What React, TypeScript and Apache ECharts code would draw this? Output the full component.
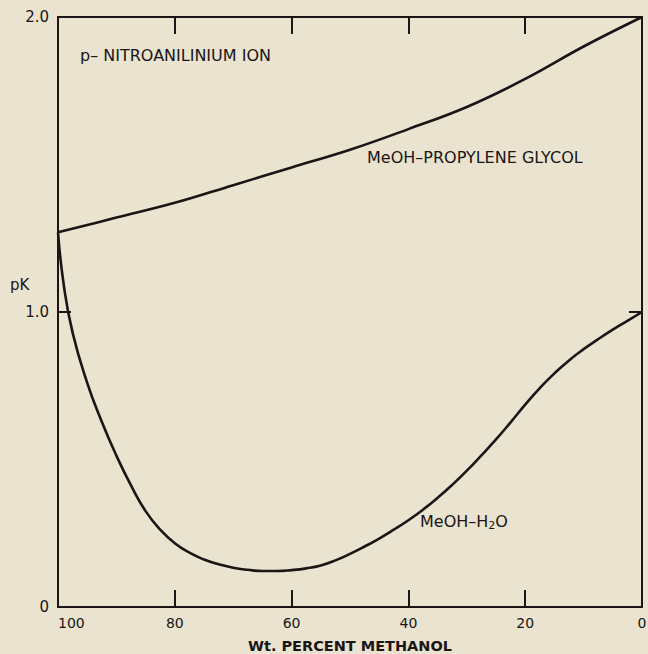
import React, { useEffect, useRef } from "react";
import * as echarts from "echarts";

// ---- data ----
const xTickValues = [0, 20, 40, 60, 80, 100];
const yTickLabels: Record<number, string> = { 0: "0", 1: "1.0", 2: "2.0" };

const glycolX = [100, 90, 80, 70, 60, 50, 40, 30, 20, 10, 0];
const glycolPK = [1.27, 1.32, 1.37, 1.43, 1.49, 1.55, 1.62, 1.695, 1.79, 1.9, 2.0];

const waterX = [
  100, 99, 97.5, 95, 92.5, 90, 87.5, 85, 82.5, 80, 77.5, 75, 72.5, 70, 67.5, 65, 62.5, 60, 57.5,
  55, 52.5, 50, 47.5, 45, 42.5, 40, 37.5, 35, 32.5, 30, 27.5, 25, 22.5, 20, 17.5, 15, 12.5, 10,
  7.5, 5, 2.5, 0,
];
const waterPK = [
  1.27, 1.09, 0.93, 0.76, 0.628, 0.513, 0.412, 0.325, 0.262, 0.216, 0.184, 0.161, 0.145, 0.133,
  0.126, 0.122, 0.122, 0.125, 0.131, 0.141, 0.158, 0.18, 0.205, 0.232, 0.262, 0.294, 0.33, 0.37,
  0.414, 0.462, 0.514, 0.568, 0.626, 0.686, 0.742, 0.792, 0.836, 0.874, 0.908, 0.94, 0.97, 1.0,
];

const titleX = "Wt. PERCENT METHANOL";
const labelIon = "p– NITROANILINIUM ION";
const labelGlycol = "MeOH–PROPYLENE GLYCOL";
const labelWater = "MeOH–H{s|2}O";
const labelY = "pK";

const BG = "#e9e3cf";
const INK = "#1b1515";
const FONT = "DejaVu Sans";

export default function App() {
  const ref = useRef<HTMLDivElement>(null);

  useEffect(() => {
    if (!ref.current) return;
    const chart = echarts.init(ref.current, undefined, { renderer: "svg" });

    const axisLine = { show: true, onZero: false, lineStyle: { color: INK, width: 2 } };
    const xAxisBase = {
      type: "value" as const,
      min: 0,
      max: 100,
      interval: 20,
      inverse: true,
      splitLine: { show: false },
      axisLine,
    };
    const yAxisBase = {
      type: "value" as const,
      min: 0,
      max: 2,
      interval: 1,
      splitLine: { show: false },
      axisLine,
    };

    const toPairs = (xs: number[], ys: number[]) => xs.map((x, i) => [x, ys[i]]);

    chart.setOption({
      animation: false,
      backgroundColor: BG,
      grid: { left: 58, right: 6, top: 17, bottom: 47, outerBoundsMode: "none" },
      xAxis: [
        {
          ...xAxisBase,
          position: "bottom",
          axisTick: { show: true, inside: true, length: 17, lineStyle: { color: INK, width: 2 } },
          axisLabel: {
            color: INK,
            fontSize: 14,
            fontFamily: FONT,
            margin: 9,
            alignMaxLabel: "left",
            customValues: xTickValues,
            formatter: (v: number) => String(v),
          },
          name: titleX,
          nameLocation: "middle",
          nameGap: 31,
          nameTextStyle: { color: INK, fontSize: 14.5, fontWeight: "bold", fontFamily: FONT },
        },
        {
          ...xAxisBase,
          position: "top",
          axisTick: { show: true, inside: true, length: 17, lineStyle: { color: INK, width: 2 } },
          axisLabel: { show: false },
        },
      ],
      yAxis: [
        {
          ...yAxisBase,
          position: "left",
          axisTick: { show: true, inside: true, length: 13, lineStyle: { color: INK, width: 2 } },
          axisLabel: {
            color: INK,
            fontSize: 15,
            fontFamily: FONT,
            margin: 9,
            formatter: (v: number) => yTickLabels[v] ?? String(v),
          },
        },
        {
          ...yAxisBase,
          position: "right",
          axisTick: { show: true, inside: true, length: 13, lineStyle: { color: INK, width: 2 } },
          axisLabel: { show: false },
        },
      ],
      series: [
        {
          type: "line",
          name: "MeOH-Propylene glycol",
          data: toPairs(glycolX, glycolPK),
          smooth: 0.4,
          showSymbol: false,
          lineStyle: { color: INK, width: 2.6 },
        },
        {
          type: "line",
          name: "MeOH-H2O",
          data: toPairs(waterX, waterPK),
          smooth: 0.5,
          showSymbol: false,
          lineStyle: { color: INK, width: 2.6 },
        },
      ],
      graphic: [
        {
          type: "text",
          left: 80,
          top: 47,
          style: { text: labelIon, fill: INK, fontSize: 16, fontFamily: FONT },
        },
        {
          type: "text",
          left: 367,
          top: 149,
          style: { text: labelGlycol, fill: INK, fontSize: 16, fontFamily: FONT },
        },
        {
          type: "text",
          left: 420,
          top: 513,
          style: {
            text: labelWater,
            fill: INK,
            fontSize: 16,
            fontFamily: FONT,
            rich: {
              s: { fontSize: 11, fontFamily: FONT, fill: INK, verticalAlign: "bottom", lineHeight: 20 },
            },
          },
        },
        {
          type: "text",
          left: 10,
          top: 277,
          style: { text: labelY, fill: INK, fontSize: 15, fontFamily: FONT },
        },
      ],
    });

    return () => chart.dispose();
  }, []);

  return (
    <div
      ref={ref}
      style={{ position: "absolute", left: 0, top: 0, width: 648, height: 654 }}
    />
  );
}
